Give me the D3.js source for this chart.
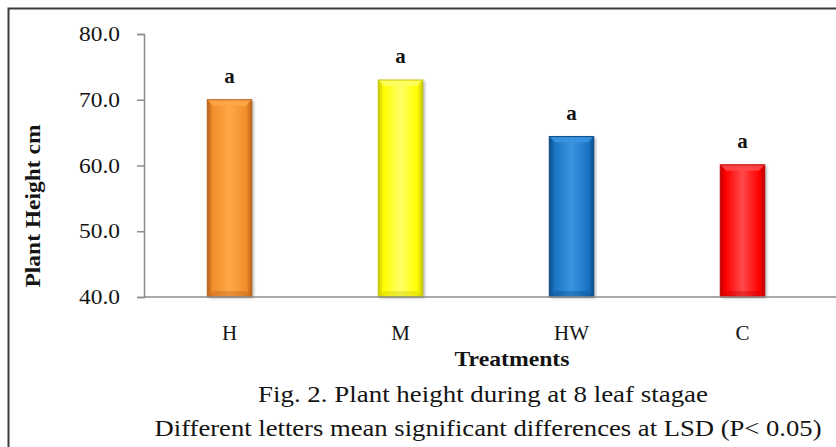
<!DOCTYPE html>
<html>
<head>
<meta charset="utf-8">
<script src="https://cdn.jsdelivr.net/npm/d3@7"></script>
<style>
  html, body { margin: 0; padding: 0; background: #fff; }
  svg { display: block; }
  text { font-family: "Liberation Serif", "Times New Roman", serif; fill: #141414; }
</style>
</head>
<body>
<svg id="chart" width="836" height="447"></svg>
<script>
// Plant height per treatment (cm) and significance letters
const treatments = ["H", "M", "HW", "C"];
const heights = [70.0, 73.0, 64.4, 60.1];
const letters = ["a", "a", "a", "a"];
const yTicks = [40, 50, 60, 70, 80];
const barColors = [
  { base: "#f28d2a", light: "#ffa848", dark: "#b8601a" },
  { base: "#ffff00", light: "#ffff66", dark: "#c9c400" },
  { base: "#1a73c4", light: "#3a95e0", dark: "#0c4a88" },
  { base: "#ff0000", light: "#ff4a4a", dark: "#c00000" }
];

const svg = d3.select("#chart");
const defs = svg.append("defs");

// outer frame
svg.append("rect")
  .attr("x", 8.5).attr("y", 8.5).attr("width", 1000).attr("height", 1000)
  .attr("fill", "none").attr("stroke", "#3a3a3a").attr("stroke-width", 2);

const x = d3.scaleBand().domain(treatments).range([144, 828]).paddingInner(0.74).paddingOuter(0.37);
const y = d3.scaleLinear().domain([40, 80]).range([297, 34]);

// bevel gradients
barColors.forEach((c, i) => {
  const g = defs.append("linearGradient").attr("id", "grad" + i)
    .attr("x1", "0").attr("x2", "1").attr("y1", "0").attr("y2", "0");
  g.append("stop").attr("offset", "0%").attr("stop-color", c.dark);
  g.append("stop").attr("offset", "12%").attr("stop-color", c.base);
  g.append("stop").attr("offset", "50%").attr("stop-color", c.light);
  g.append("stop").attr("offset", "88%").attr("stop-color", c.base);
  g.append("stop").attr("offset", "100%").attr("stop-color", c.dark);
});
const shadow = defs.append("filter").attr("id", "shadow")
  .attr("x", "-20%").attr("y", "-10%").attr("width", "150%").attr("height", "130%");
shadow.append("feDropShadow").attr("dx", 2).attr("dy", 1).attr("stdDeviation", 1.5)
  .attr("flood-color", "#000").attr("flood-opacity", 0.3);

// y axis
const yAxis = svg.append("g").attr("transform", "translate(144,0)")
  .call(d3.axisLeft(y).tickValues(yTicks).tickSize(7).tickPadding(17).tickFormat(d3.format(".1f")));
yAxis.select(".domain").attr("stroke", "#8c8c8c").attr("stroke-width", 1.5);
yAxis.selectAll(".tick line").attr("stroke", "#8c8c8c").attr("stroke-width", 1.5);
yAxis.selectAll(".tick text").style("font-size", "21px").attr("fill", "#1c1c3a")
  .attr("textLength", 41).attr("lengthAdjust", "spacingAndGlyphs");

// bars
const bars = svg.append("g").selectAll("g").data(treatments).join("g");
bars.each(function (d, i) {
  const g = d3.select(this);
  const x0 = x(d), w = x.bandwidth();
  const top = y(heights[i]), bottom = y(40);
  const c = barColors[i];
  g.append("rect").attr("x", x0).attr("y", top).attr("width", w).attr("height", bottom - top)
    .attr("fill", "url(#grad" + i + ")").attr("filter", "url(#shadow)");
  // top bevel
  const b = 6;
  g.append("path")
    .attr("d", `M${x0},${top}L${x0 + w},${top}L${x0 + w - b},${top + b}L${x0 + b},${top + b}Z`)
    .attr("fill", c.light).attr("opacity", 0.85);
  // bottom bevel
  g.append("path")
    .attr("d", `M${x0},${bottom}L${x0 + w},${bottom}L${x0 + w - b},${bottom - b}L${x0 + b},${bottom - b}Z`)
    .attr("fill", c.dark).attr("opacity", 0.35);
  g.append("rect").attr("x", x0).attr("y", top).attr("width", w).attr("height", bottom - top)
    .attr("fill", "none").attr("stroke", c.dark).attr("stroke-width", 1);
  // significance letter
  g.append("text").attr("x", x0 + w / 2).attr("y", top - 17)
    .attr("text-anchor", "middle").style("font-size", "21px").style("font-weight", "bold")
    .attr("fill", "#1c1c3a")
    .text(letters[i]);
});

// x axis
const xAxis = svg.append("g").attr("transform", "translate(0,297)")
  .call(d3.axisBottom(x).tickSize(0).tickPadding(28));
xAxis.select(".domain").attr("d", "M144,0H836").attr("stroke", "#8c8c8c").attr("stroke-width", 1.5);
xAxis.selectAll(".tick text").style("font-size", "21px").attr("fill", "#141414");

// axis titles
svg.append("text").attr("x", 512).attr("y", 366).attr("text-anchor", "middle")
  .style("font-size", "22px").style("font-weight", "bold")
  .attr("textLength", 115).attr("lengthAdjust", "spacingAndGlyphs").text("Treatments");
svg.append("text").attr("transform", "translate(40,206) rotate(-90)").attr("text-anchor", "middle")
  .style("font-size", "21px").style("font-weight", "bold")
  .attr("textLength", 163).attr("lengthAdjust", "spacingAndGlyphs").text("Plant Height cm");

// caption
svg.append("text").attr("x", 483).attr("y", 402).attr("text-anchor", "middle")
  .style("font-size", "24px").attr("textLength", 450).attr("lengthAdjust", "spacingAndGlyphs")
  .text("Fig. 2. Plant height during at 8 leaf stagae");
svg.append("text").attr("x", 488).attr("y", 436).attr("text-anchor", "middle")
  .style("font-size", "24px").attr("textLength", 667).attr("lengthAdjust", "spacingAndGlyphs")
  .text("Different letters mean significant differences at LSD (P< 0.05)");
</script>
</body>
</html>
